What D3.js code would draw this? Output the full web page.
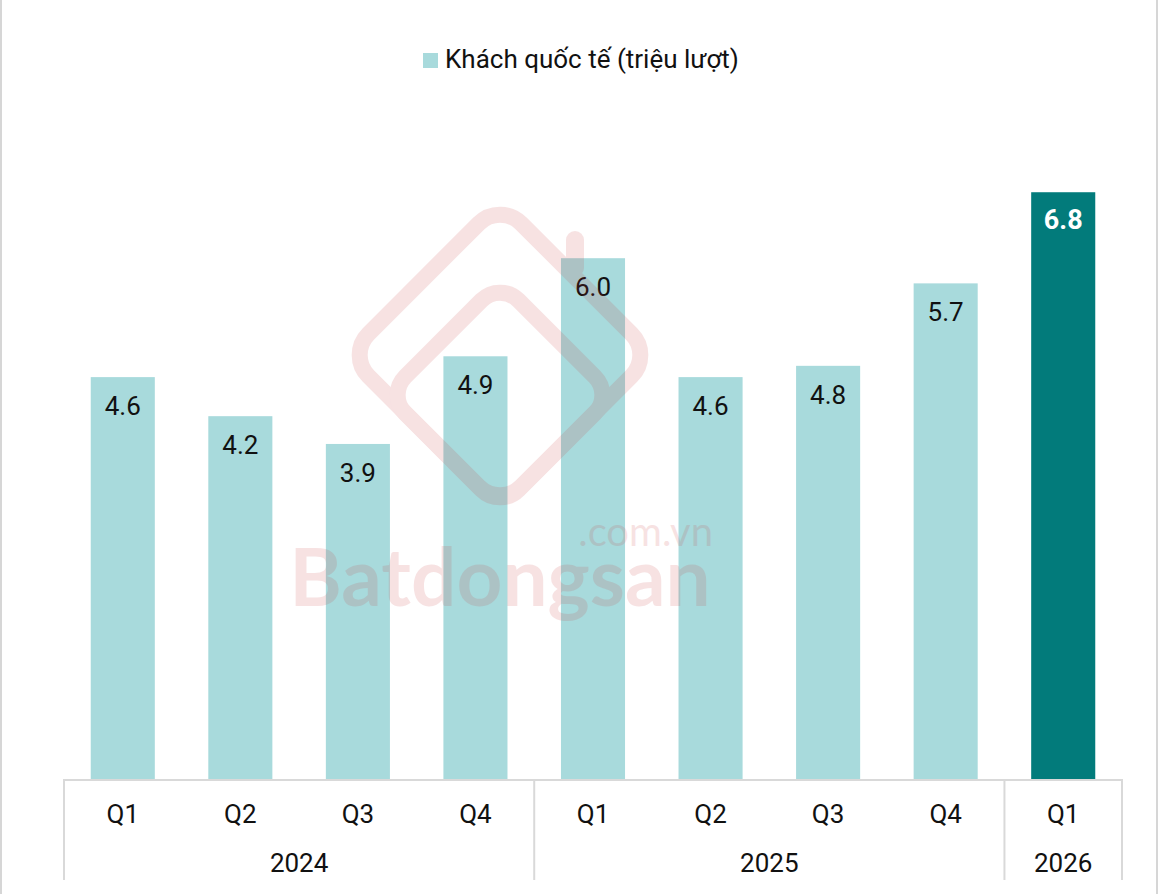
<!DOCTYPE html>
<html lang="vi">
<head>
<meta charset="utf-8">
<title>Khách quốc tế</title>
<script src="https://cdn.jsdelivr.net/npm/d3@7"></script>
<style>
  html, body { margin: 0; padding: 0; background: #fff; }
  svg { display: block; font-family: Roboto, "Noto Sans", sans-serif; }
</style>
</head>
<body>
<div id="chart"></div>
<script>
// data
var quarters = ["Q1", "Q2", "Q3", "Q4", "Q1", "Q2", "Q3", "Q4", "Q1"];
var values = [4.63, 4.18, 3.86, 4.87, 6.0, 4.63, 4.76, 5.71, 6.76];
var years = ["2024", "2025", "2026"];
var quartersPerYear = [4, 4, 1];
var seriesName = "Khách quốc tế (triệu lượt)";

var w = 1168, h = 894;
var left = 64, right = 1122, base = 779, axisBottom = 880;

var svg = d3.select("#chart").append("svg")
  .attr("width", w)
  .attr("height", h);

// frame lines at the sides
svg.append("rect").attr("x", 0).attr("y", 0).attr("width", 2).attr("height", h).attr("fill", "#d6d6d6");
svg.append("rect").attr("x", 1156).attr("y", 0).attr("width", 2).attr("height", h).attr("fill", "#d6d6d6");

var idx = d3.range(values.length);
var xScale = d3.scaleBand()
  .domain(idx)
  .range([left, right]);
var barW = xScale.bandwidth() * 0.545;

var yScale = d3.scaleLinear()
  .domain([0, 8])
  .range([base, base - 8 * 86.8]);

var last = values.length - 1;

// legend
var legend = svg.append("g");
legend.append("rect")
  .attr("x", 423).attr("y", 53)
  .attr("width", 15).attr("height", 15)
  .attr("fill", "#a8dadc");
legend.append("text")
  .attr("x", 445).attr("y", 68)
  .attr("font-size", "26px")
  .attr("fill", "#111")
  .text(seriesName);

// bars
svg.selectAll("rect.bar")
  .data(values)
  .enter()
  .append("rect")
  .attr("class", "bar")
  .attr("x", function(d, i) { return xScale(i) + (xScale.bandwidth() - barW) / 2; })
  .attr("y", function(d) { return yScale(d); })
  .attr("width", barW)
  .attr("height", function(d) { return base - yScale(d); })
  .attr("fill", function(d, i) { return i === last ? "#027b7b" : "#a8dadc"; });

// value labels
svg.selectAll("text.val")
  .data(values)
  .enter()
  .append("text")
  .attr("class", "val")
  .attr("text-anchor", "middle")
  .attr("x", function(d, i) { return xScale(i) + xScale.bandwidth() / 2; })
  .attr("y", function(d, i) { return yScale(d) + (i === last ? 37 : 38); })
  .attr("font-size", function(d, i) { return i === last ? "27px" : "26px"; })
  .attr("font-weight", function(d, i) { return i === last ? "bold" : "normal"; })
  .attr("fill", function(d, i) { return i === last ? "#fff" : "#111"; })
  .text(function(d) { return d.toFixed(1); });

// watermark
var wm = svg.append("g").attr("opacity", 0.14).attr("pointer-events", "none");
wm.append("rect")
  .attr("x", -108).attr("y", -108).attr("width", 216).attr("height", 216)
  .attr("rx", 30)
  .attr("fill", "none").attr("stroke", "#c8373a").attr("stroke-width", 16)
  .attr("transform", "translate(500,355) rotate(45)");
wm.append("rect")
  .attr("x", -80).attr("y", -80).attr("width", 160).attr("height", 160)
  .attr("rx", 26)
  .attr("fill", "none").attr("stroke", "#c8373a").attr("stroke-width", 16)
  .attr("transform", "translate(500,395) rotate(45)");
wm.append("line")
  .attr("x1", 575).attr("y1", 240).attr("x2", 575).attr("y2", 268)
  .attr("stroke", "#c8373a").attr("stroke-width", 18).attr("stroke-linecap", "round");
wm.append("text")
  .attr("x", 500).attr("y", 606)
  .attr("text-anchor", "middle")
  .attr("font-size", "80px").attr("font-weight", "bold")
  .attr("font-family", "Lato, Roboto, sans-serif")
  .attr("fill", "#c8373a")
  .text("Batdongsan");
wm.append("text")
  .attr("x", 713).attr("y", 546)
  .attr("text-anchor", "end")
  .attr("font-size", "40px")
  .attr("font-family", "Lato, Roboto, sans-serif")
  .attr("fill", "#c8373a")
  .text(".com.vn");

// category axis
var axis = svg.append("g");
axis.append("line")
  .attr("x1", left).attr("x2", right)
  .attr("y1", base + 1).attr("y2", base + 1)
  .attr("stroke", "#d9d9d9").attr("stroke-width", 2);

axis.selectAll("text.q")
  .data(quarters)
  .enter()
  .append("text")
  .attr("class", "q")
  .attr("text-anchor", "middle")
  .attr("x", function(d, i) { return xScale(i) + xScale.bandwidth() / 2; })
  .attr("y", 823)
  .attr("font-size", "26px")
  .attr("fill", "#111")
  .text(function(d) { return d; });

// year groups
var starts = [0];
quartersPerYear.forEach(function(n, i) { starts.push(starts[i] + n); });
var bounds = starts.map(function(s) {
  return s < values.length ? xScale(s) : xScale(last) + xScale.bandwidth();
});

axis.selectAll("line.sep")
  .data(bounds)
  .enter()
  .append("line")
  .attr("class", "sep")
  .attr("x1", function(d) { return d; })
  .attr("x2", function(d) { return d; })
  .attr("y1", base)
  .attr("y2", axisBottom)
  .attr("stroke", "#d9d9d9").attr("stroke-width", 2);

axis.selectAll("text.year")
  .data(years)
  .enter()
  .append("text")
  .attr("class", "year")
  .attr("text-anchor", "middle")
  .attr("x", function(d, i) { return (bounds[i] + bounds[i + 1]) / 2; })
  .attr("y", 872)
  .attr("font-size", "26px")
  .attr("fill", "#111")
  .text(function(d) { return d; });
</script>
</body>
</html>
